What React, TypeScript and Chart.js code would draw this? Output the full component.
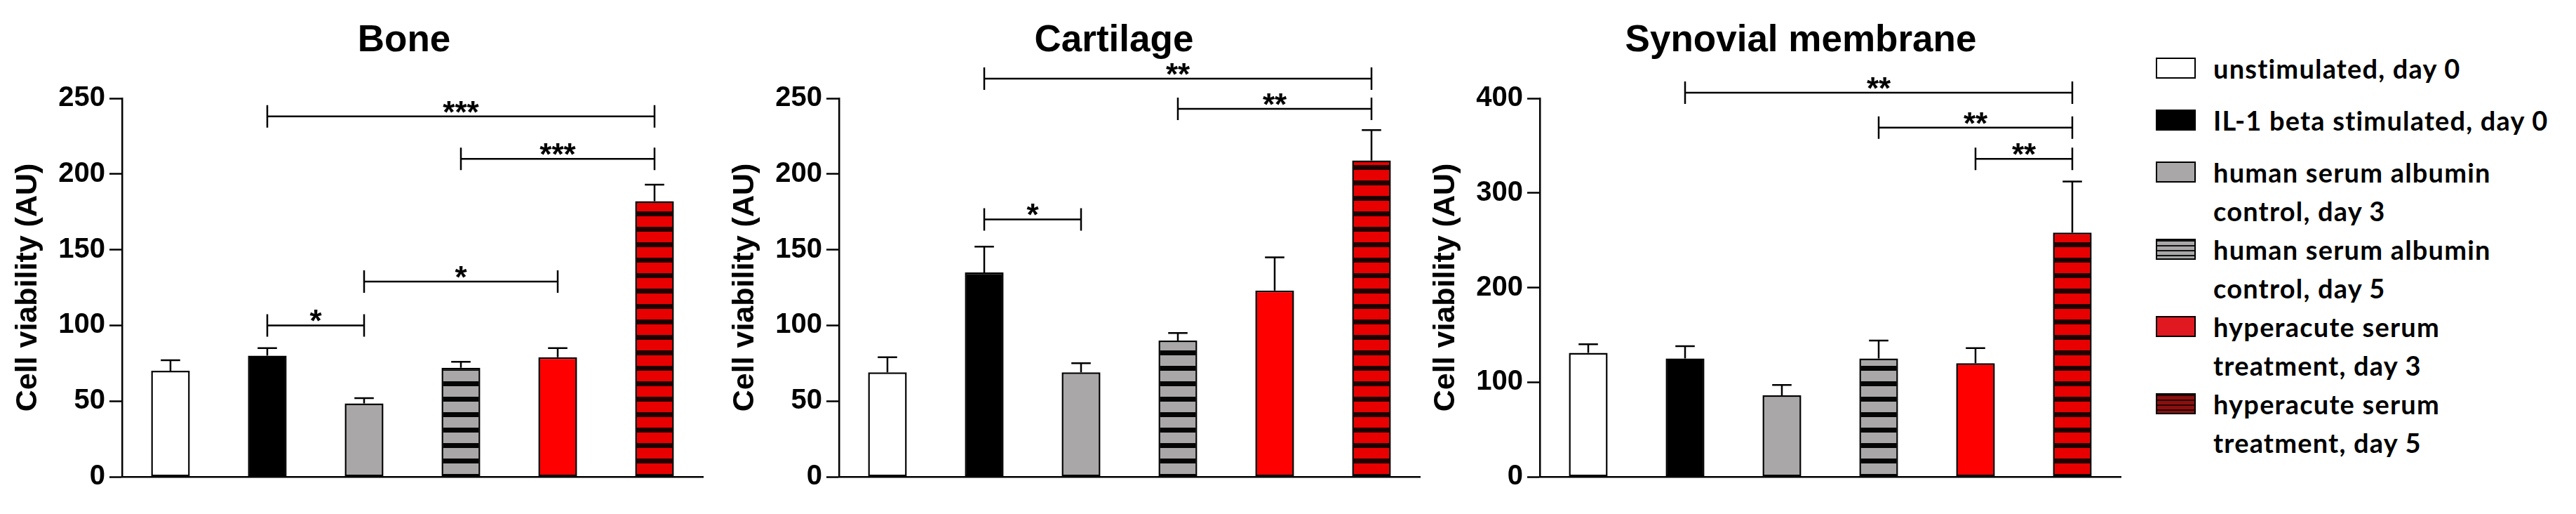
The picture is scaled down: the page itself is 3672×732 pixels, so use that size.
import { useEffect, useRef } from "react";
import { Chart, registerables } from "chart.js";

Chart.register(...registerables);

// Treatment groups (x categories, also used by the legend)
const GROUPS = [
  "unstimulated, day 0",
  "IL-1 beta stimulated, day 0",
  "human serum albumin control, day 3",
  "human serum albumin control, day 5",
  "hyperacute serum treatment, day 3",
  "hyperacute serum treatment, day 5",
];

const LEGEND_LINES = [
  ["unstimulated, day 0"],
  ["IL-1 beta stimulated, day 0"],
  ["human serum albumin", "control, day 3"],
  ["human serum albumin", "control, day 5"],
  ["hyperacute serum", "treatment, day 3"],
  ["hyperacute serum", "treatment, day 5"],
];

// Mean cell viability (AU) and error (SEM) per group
const BONE_MEAN = [70, 80, 48.5, 72, 79, 182];
const BONE_ERR = [7, 5, 3.5, 4, 6, 11];
const CARTILAGE_MEAN = [69, 135, 69, 90, 123, 209];
const CARTILAGE_ERR = [10, 17, 6, 5, 22, 20];
const SYNOVIAL_MEAN = [131, 125, 86, 125, 120, 258];
const SYNOVIAL_ERR = [9, 13, 11, 19, 16, 54];

// y tick labels
const BONE_TICKS = [0, 50, 100, 150, 200, 250];
const CARTILAGE_TICKS = [0, 50, 100, 150, 200, 250];
const SYNOVIAL_TICKS = [0, 100, 200, 300, 400];

// significance brackets: [from group, to group, height (AU), label]
const BONE_SIG: [number, number, number, string][] = [
  [1, 5, 238, "***"],
  [3, 5, 210, "***"],
  [2, 4, 129, "*"],
  [1, 2, 100, "*"],
];
const CARTILAGE_SIG: [number, number, number, string][] = [
  [1, 5, 263, "**"],
  [3, 5, 243, "**"],
  [1, 2, 170, "*"],
];
const SYNOVIAL_SIG: [number, number, number, string][] = [
  [1, 5, 406, "**"],
  [3, 5, 369, "**"],
  [4, 5, 336, "**"],
];

const ARIAL = "'Liberation Sans', Arial, sans-serif";
const AXIS_W = 172;
const PLOT_W = 828;

function stripes(base: string, band: string) {
  const c = document.createElement("canvas");
  c.width = 8;
  c.height = 22;
  const g = c.getContext("2d")!;
  g.fillStyle = base;
  g.fillRect(0, 0, 8, 22);
  g.fillStyle = band;
  g.fillRect(0, 15, 8, 7);
  return g.createPattern(c, "repeat");
}

interface PanelProps {
  title: string;
  means: number[];
  errs: number[];
  ticks: number[];
  sig: [number, number, number, string][];
  plotLeft: number;
  titleDx: number;
}

function Panel({ title, means, errs, ticks, sig, plotLeft, titleDx }: PanelProps) {
  const chartRef = useRef<HTMLCanvasElement>(null);
  const chartInstanceRef = useRef<Chart | null>(null);

  useEffect(() => {
    if (!chartRef.current) return;
    if (chartInstanceRef.current) chartInstanceRef.current.destroy();

    const fills = [
      "#ffffff",
      "#000000",
      "#a9a7a7",
      stripes("#a9a7a7", "#050505"),
      "#ff0000",
      stripes("#e80000", "#1e0000"),
    ];

    const annotate = {
      id: "annotate",
      afterDatasetsDraw(chart: any) {
        const { ctx, chartArea, scales } = chart;
        const xs = scales.x;
        const ys = scales.y;
        const meta = chart.getDatasetMeta(0);
        ctx.save();
        ctx.strokeStyle = "#000";
        ctx.fillStyle = "#000";
        ctx.lineWidth = 2.5;

        // error bars (upper half only)
        meta.data.forEach((bar: any, i: number) => {
          const { x, width } = bar.getProps(["x", "width"], true);
          const top = ys.getPixelForValue(means[i]);
          const tip = ys.getPixelForValue(means[i] + errs[i]);
          ctx.beginPath();
          ctx.moveTo(x, top);
          ctx.lineTo(x, tip);
          ctx.moveTo(x - width / 4, tip);
          ctx.lineTo(x + width / 4, tip);
          ctx.stroke();
        });

        // significance brackets
        ctx.font = `bold 44px ${ARIAL}`;
        ctx.textAlign = "center";
        ctx.textBaseline = "alphabetic";
        sig.forEach(([a, b, v, label]) => {
          const x1 = xs.getPixelForValue(a);
          const x2 = xs.getPixelForValue(b);
          const py = ys.getPixelForValue(v);
          ctx.beginPath();
          ctx.moveTo(x1, py);
          ctx.lineTo(x2, py);
          ctx.moveTo(x1, py - 16);
          ctx.lineTo(x1, py + 16);
          ctx.moveTo(x2, py - 16);
          ctx.lineTo(x2, py + 16);
          ctx.stroke();
          ctx.fillText(label, (x1 + x2) / 2, py + 9);
        });

        // panel title
        ctx.font = `bold 53px ${ARIAL}`;
        ctx.fillText(title, (chartArea.left + chartArea.right) / 2 + titleDx, 73);
        ctx.restore();
      },
    };

    chartInstanceRef.current = new Chart(chartRef.current, {
      type: "bar",
      data: {
        labels: GROUPS,
        datasets: [
          {
            data: means,
            backgroundColor: fills as any,
            borderColor: "#000",
            borderWidth: 2.5,
            borderSkipped: false,
            categoryPercentage: 1,
            barPercentage: 0.4,
          },
        ],
      },
      options: {
        animation: false,
        responsive: true,
        maintainAspectRatio: false,
        layout: { padding: { top: 140, bottom: 45, left: 0, right: 6 } },
        plugins: {
          legend: { display: false },
          tooltip: { enabled: false },
        },
        scales: {
          x: {
            grid: { display: false },
            ticks: { display: false },
            border: { color: "#000", width: 2.5 },
          },
          y: {
            min: ticks[0],
            max: ticks[ticks.length - 1],
            afterFit: (scale: any) => {
              scale.width = AXIS_W;
            },
            ticks: {
              stepSize: ticks[1] - ticks[0],
              color: "#000",
              padding: 6,
              font: { family: ARIAL, size: 40, weight: "bold" },
            },
            grid: {
              drawOnChartArea: false,
              tickLength: 18,
              tickColor: "#000",
              tickWidth: 2.5,
            },
            border: { color: "#000", width: 2.5 },
            title: {
              display: true,
              text: "Cell viability (AU)",
              color: "#000",
              font: { family: ARIAL, size: 43, weight: "bold" },
              padding: { top: 12, bottom: 0 },
            },
          },
        },
      },
      plugins: [annotate],
    });

    return () => {
      if (chartInstanceRef.current) {
        chartInstanceRef.current.destroy();
        chartInstanceRef.current = null;
      }
    };
  }, [title, means, errs, ticks, sig, titleDx]);

  return (
    <div
      style={{
        position: "absolute",
        left: plotLeft - AXIS_W,
        top: 0,
        width: AXIS_W + PLOT_W + 6,
        height: 732,
      }}
    >
      <canvas ref={chartRef} />
    </div>
  );
}

const SWATCHES = [
  { background: "#ffffff" },
  { background: "#000000" },
  { background: "#a9a7a7" },
  { background: "repeating-linear-gradient(to bottom, #111 0px, #111 2px, #a9a7a7 2px, #a9a7a7 7px)" },
  { background: "#e01820" },
  { background: "repeating-linear-gradient(to bottom, #2a0000 0px, #2a0000 2px, #8a1010 2px, #8a1010 7px)" },
];

function Legend() {
  return (
    <div
      style={{
        position: "absolute",
        left: 3073,
        top: 70,
        fontFamily: "Lato, 'Open Sans', sans-serif",
        fontWeight: 700,
        fontSize: 38,
        letterSpacing: "1.2px",
        lineHeight: "55px",
        color: "#000",
      }}
    >
      {LEGEND_LINES.map((lines, i) => (
        <div key={i} style={{ display: "flex", minHeight: 74 }}>
          <div
            style={{
              ...SWATCHES[i],
              boxSizing: "border-box",
              width: 57,
              height: 30,
              marginTop: 12,
              border: "2.5px solid #000",
              flex: "none",
            }}
          />
          <div style={{ marginLeft: 25, whiteSpace: "nowrap" }}>
            {lines.map((l, j) => (
              <div key={j}>{l}</div>
            ))}
          </div>
        </div>
      ))}
    </div>
  );
}

export default function App() {
  return (
    <div
      style={{
        position: "absolute",
        left: 0,
        top: 0,
        width: 3672,
        height: 732,
        background: "#fff",
        overflow: "hidden",
      }}
    >
      <Panel title="Bone" means={BONE_MEAN} errs={BONE_ERR} ticks={BONE_TICKS} sig={BONE_SIG} plotLeft={174} titleDx={-12} />
      <Panel
        title="Cartilage"
        means={CARTILAGE_MEAN}
        errs={CARTILAGE_ERR}
        ticks={CARTILAGE_TICKS}
        sig={CARTILAGE_SIG}
        plotLeft={1196}
        titleDx={-22}
      />
      <Panel
        title="Synovial membrane"
        means={SYNOVIAL_MEAN}
        errs={SYNOVIAL_ERR}
        ticks={SYNOVIAL_TICKS}
        sig={SYNOVIAL_SIG}
        plotLeft={2195}
        titleDx={-42}
      />
      <Legend />
    </div>
  );
}
